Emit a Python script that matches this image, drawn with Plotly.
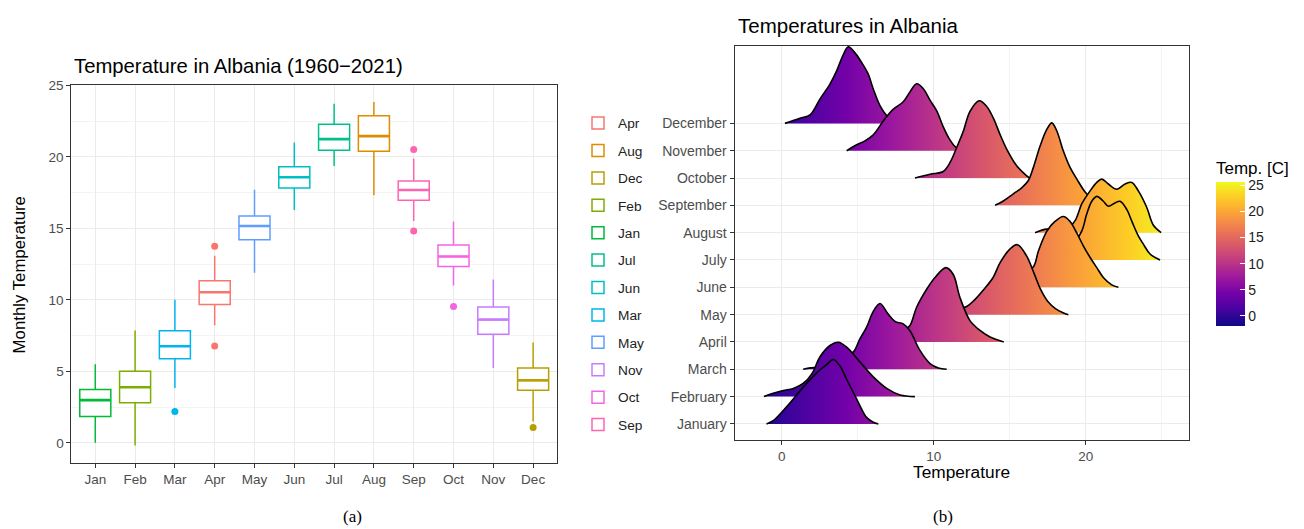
import plotly.graph_objects as go

# ---------------- data: monthly temperature box statistics (°C) ----------------
months = ["Jan", "Feb", "Mar", "Apr", "May", "Jun",
          "Jul", "Aug", "Sep", "Oct", "Nov", "Dec"]
whisker_low = [0.0, -0.18, 3.84, 8.23, 11.89, 16.28, 19.37, 17.31, 15.52, 11.0, 5.24, 1.5]
q1_vals     = [1.85, 2.81, 5.89, 9.68, 14.21, 17.82, 20.46, 20.39, 16.97, 12.34, 7.59, 3.68]
median_vals = [2.99, 3.89, 6.76, 10.53, 15.17, 18.58, 21.24, 21.45, 17.68, 13.03, 8.62, 4.37]
q3_vals     = [3.73, 5.01, 7.84, 11.34, 15.86, 19.31, 22.28, 22.88, 18.32, 13.84, 9.50, 5.24]
whisker_hi  = [5.5, 7.86, 10.0, 13.08, 17.7, 21.0, 23.72, 23.84, 19.89, 15.48, 11.43, 7.01]
outliers = {
    "Mar": [2.19],
    "Apr": [6.78, 13.75],
    "Sep": [14.81, 20.51],
    "Oct": [9.54],
    "Dec": [1.08],
}

# ggplot default hue palette, assigned in alphabetical order of the month labels
legend_order = sorted(months)
hue_palette = ["#F8766D", "#DE8C00", "#B79F00", "#7CAE00", "#00BA38", "#00C08B",
               "#00BFC4", "#00B4F0", "#619CFF", "#C77CFF", "#F564E3", "#FF64B0"]

# ---------------- data: density ridges per month (temperature, ridge height) ----------------
month_names = ["January", "February", "March", "April", "May", "June",
               "July", "August", "September", "October", "November", "December"]
ridge_temp = {
    "January":  [-1.0, -0.56, 0.1, 0.76, 1.2, 2.3, 2.95, 3.39, 3.83, 4.27, 4.71, 5.14, 5.58, 6.02, 6.35],
    "February": [-1.17, -0.56, 0.1, 0.76, 1.41, 2.0, 2.51, 3.17, 3.72, 4.27, 5.14, 6.02, 6.9, 7.78, 8.76],
    "March":    [1.41, 1.9, 2.5, 3.3, 4.0, 4.7, 5.14, 5.58, 6.02, 6.46, 7.0, 7.45, 7.99, 8.43, 9.09, 9.75, 10.3, 10.85],
    "April":    [5.5, 6.5, 7.5, 8.0, 8.43, 8.87, 9.53, 10.08, 10.8, 11.28, 11.72, 12.38, 13.04, 13.7, 14.6],
    "May":      [9.0, 10.0, 11.0, 12.16, 12.7, 13.26, 13.9, 14.36, 15.0, 15.5, 16.1, 16.6, 17.0, 17.5, 18.0, 18.5, 18.85],
    "June":     [13.5, 14.5, 15.5, 16.55, 16.88, 17.43, 17.97, 18.52, 18.96, 19.4, 19.84, 20.28, 20.72, 21.15, 21.7, 22.14],
    "July":     [17.0, 18.0, 19.0, 19.73, 20.05, 20.39, 20.72, 21.15, 21.48, 21.92, 22.25, 22.69, 23.02, 23.45, 23.78, 24.22, 24.88],
    "August":   [16.66, 17.43, 18.09, 18.8, 19.3, 19.73, 20.28, 20.72, 21.05, 21.48, 22.03, 22.58, 23.02, 23.45, 24.0, 24.44, 24.95],
    "September":[14.03, 14.57, 15.23, 15.78, 16.22, 16.55, 16.99, 17.43, 17.76, 18.09, 18.52, 18.96, 19.4, 19.95, 20.5, 21.2, 22.0],
    "October":  [8.76, 9.75, 10.62, 11.07, 11.5, 11.94, 12.38, 12.99, 13.48, 13.91, 14.36, 14.8, 15.45, 16.11, 16.3],
    "November": [4.27, 4.93, 5.47, 6.02, 6.68, 7.34, 7.99, 8.43, 8.87, 9.31, 9.75, 10.2, 10.6, 11.0, 11.4, 11.8],
    "December": [0.21, 1.2, 1.86, 2.51, 3.17, 3.61, 4.05, 4.38, 4.82, 5.26, 5.69, 6.02, 6.46, 6.9, 7.4, 8.0],
}
ridge_height = {
    "January":  [0.0, 0.12, 0.49, 0.91, 1.21, 1.87, 2.17, 2.36, 2.12, 1.63, 1.15, 0.67, 0.24, 0.06, 0.0],
    "February": [0.0, 0.12, 0.22, 0.3, 0.48, 0.85, 1.45, 1.87, 1.99, 1.81, 1.27, 0.72, 0.3, 0.06, 0.0],
    "March":    [0.0, 0.05, 0.1, 0.25, 0.45, 0.63, 1.11, 1.54, 2.12, 2.41, 2.02, 1.75, 1.66, 1.41, 0.69, 0.21, 0.05, 0.0],
    "April":    [0.0, 0.05, 0.2, 0.4, 0.6, 1.27, 1.93, 2.36, 2.72, 2.47, 1.63, 0.78, 0.42, 0.18, 0.0],
    "May":      [0.0, 0.05, 0.12, 0.3, 0.55, 0.9, 1.36, 1.9, 2.4, 2.56, 2.15, 1.5, 0.95, 0.48, 0.22, 0.07, 0.0],
    "June":     [0.0, 0.1, 0.3, 0.75, 1.33, 2.05, 2.41, 2.59, 2.41, 1.99, 1.51, 1.09, 0.72, 0.36, 0.09, 0.0],
    "July":     [0.0, 0.15, 0.5, 1.06, 1.67, 2.15, 2.33, 2.15, 1.97, 2.09, 2.15, 1.85, 1.42, 0.88, 0.58, 0.22, 0.0],
    "August":   [0.0, 0.13, 0.08, 0.15, 0.45, 1.05, 1.53, 1.84, 1.96, 1.78, 1.59, 1.78, 1.84, 1.53, 0.93, 0.27, 0.0],
    "September":[0.0, 0.16, 0.42, 0.64, 0.91, 1.39, 2.17, 2.78, 3.02, 2.72, 1.99, 1.39, 0.97, 0.49, 0.2, 0.05, 0.0],
    "October":  [0.0, 0.14, 0.24, 0.57, 1.11, 1.71, 2.44, 2.83, 2.62, 2.2, 1.59, 1.05, 0.45, 0.08, 0.0],
    "November": [0.0, 0.22, 0.36, 0.58, 1.09, 1.52, 1.79, 2.15, 2.45, 2.27, 1.85, 1.45, 0.9, 0.45, 0.15, 0.0],
    "December": [0.0, 0.19, 0.31, 0.89, 1.44, 1.92, 2.52, 2.8, 2.58, 2.22, 1.8, 1.26, 0.65, 0.29, 0.08, 0.0],
}
colour_range = [-1.95, 25.65]
colour_ticks = [0, 5, 10, 15, 20, 25]

# ---------------- figure geometry ----------------
W, H = 1304, 529
FONT = "Liberation Sans, Arial, sans-serif"
SERIF = "Liberation Serif, Times New Roman, serif"
GRID = "#EBEBEB"
MINOR = "#F3F3F3"
FRAME = "#333333"
TICKTXT = "#4D4D4D"
BOX_WIDTH = 0.78


def px_x(p):
    return p / W


def px_y(p):
    return 1 - p / H


fig = go.Figure()
shapes = []

# ---------------- (a) box plots ----------------
for i, m in enumerate(months):
    rank = legend_order.index(m)
    col = hue_palette[rank]
    fig.add_trace(go.Box(
        x=[m], q1=[q1_vals[i]], median=[median_vals[i]], q3=[q3_vals[i]],
        lowerfence=[whisker_low[i]], upperfence=[whisker_hi[i]],
        name=m, legendgroup=m, legendrank=rank + 1,
        line=dict(color=col, width=1.5), fillcolor="white",
        whiskerwidth=0, width=BOX_WIDTH, boxpoints=False,
        hoverinfo="skip", xaxis="x", yaxis="y",
    ))
    # heavier median bar, as in ggplot's boxplot
    shapes.append(dict(
        type="line", xref="x", yref="y",
        x0=i - BOX_WIDTH / 2, x1=i + BOX_WIDTH / 2,
        y0=median_vals[i], y1=median_vals[i],
        line=dict(color=col, width=2.6), layer="above",
    ))
    if m in outliers:
        fig.add_trace(go.Scatter(
            x=[m] * len(outliers[m]), y=outliers[m], mode="markers",
            marker=dict(color=col, size=7), showlegend=False,
            legendgroup=m, hoverinfo="skip", xaxis="x", yaxis="y",
        ))

# ---------------- (b) density ridges, top row first so lower rows overlap ----------------
for k in range(len(month_names) - 1, -1, -1):
    name = month_names[k]
    base = k + 1
    fig.add_trace(go.Scatter(
        x=ridge_temp[name],
        y=[base + h for h in ridge_height[name]],
        mode="lines", line=dict(color="black", width=1.6, shape="spline"),
        fill="toself",
        fillgradient=dict(type="horizontal", colorscale="Plasma",
                          start=colour_range[0], stop=colour_range[1]),
        showlegend=False, hoverinfo="skip", xaxis="x2", yaxis="y2",
    ))

# colour bar for the ridge fill
fig.add_trace(go.Scatter(
    x=[None, None], y=[None, None], mode="markers",
    marker=dict(
        color=colour_range, colorscale="Plasma",
        cmin=colour_range[0], cmax=colour_range[1], showscale=True,
        colorbar=dict(
            title=dict(text="Temp. [C]", side="top",
                       font=dict(size=17, color="black", family=FONT)),
            x=px_x(1216), xanchor="left", xpad=0,
            y=px_y(323.3), yanchor="bottom", ypad=0,
            len=168, lenmode="pixels", thickness=29, thicknessmode="pixels",
            outlinewidth=0, tickvals=colour_ticks, ticks="inside",
            ticklen=5, tickcolor="white", tickwidth=1,
            tickfont=dict(size=14, color="#222222", family=FONT),
        ),
    ),
    showlegend=False, hoverinfo="skip", xaxis="x2", yaxis="y2",
))

axis_common = dict(
    showline=True, mirror=True, linecolor=FRAME, linewidth=1.1,
    ticks="outside", ticklen=4, tickcolor=FRAME, tickwidth=1,
    gridcolor=GRID, gridwidth=1, zeroline=False,
    tickfont=dict(size=13.5, color=TICKTXT, family=FONT),
)

fig.update_layout(
    width=W, height=H,
    margin=dict(l=0, r=0, t=0, b=0),
    paper_bgcolor="white", plot_bgcolor="white",
    font=dict(family=FONT, color="black"),
    boxmode="overlay",
    xaxis=dict(domain=[px_x(71.4), px_x(557)], anchor="y",
               type="category", categoryorder="array", categoryarray=months,
               range=[-0.6, 11.6], **axis_common),
    yaxis=dict(domain=[px_y(462), px_y(79)], anchor="x",
               range=[-1.4, 25.03], tickvals=[0, 5, 10, 15, 20, 25],
               minor=dict(showgrid=True, gridcolor=MINOR, gridwidth=0.7,
                          tick0=0, dtick=2.5),
               **axis_common),
    xaxis2=dict(domain=[px_x(734.6), px_x(1188.5)], anchor="y2",
                range=[-3.1, 26.75], tickvals=[0, 10, 20],
                minor=dict(showgrid=True, gridcolor=MINOR, gridwidth=0.7,
                           tick0=0, dtick=5),
                **axis_common),
    yaxis2=dict(domain=[px_y(438.3), px_y(39.3)], anchor="x2",
                range=[0.43, 14.84], tickvals=list(range(1, 13)),
                ticktext=month_names, **axis_common),
    legend=dict(x=px_x(578), y=px_y(102), xanchor="left", yanchor="top",
                font=dict(size=13.7, color="#222222", family=FONT),
                tracegroupgap=6.6, bgcolor="rgba(0,0,0,0)"),
    showlegend=True,
    shapes=shapes,
)
fig.update_yaxes(tickfont=dict(size=14), selector=dict(anchor="x2"))

annotations = [
    dict(text="Temperature in Albania (1960\u22122021)", x=px_x(72), y=px_y(60),
         xanchor="left", yanchor="middle", font=dict(size=20.3, color="black")),
    dict(text="Monthly Temperature", x=px_x(19), y=px_y(272), textangle=-90,
         xanchor="center", yanchor="middle", font=dict(size=16.8, color="black")),
    dict(text="Temperatures in Albania", x=px_x(736), y=px_y(19),
         xanchor="left", yanchor="middle", font=dict(size=20.5, color="black")),
    dict(text="Temperature", x=px_x(961.5), y=px_y(471.5),
         xanchor="center", yanchor="middle", font=dict(size=17.3, color="black")),
    dict(text="(a)", x=px_x(352), y=px_y(516),
         xanchor="center", yanchor="middle", font=dict(size=17, color="black", family=SERIF)),
    dict(text="(b)", x=px_x(943), y=px_y(516),
         xanchor="center", yanchor="middle", font=dict(size=17, color="black", family=SERIF)),
]
for a in annotations:
    a.update(xref="paper", yref="paper", showarrow=False)
fig.update_layout(annotations=annotations)

fig.write_html("out.html")
